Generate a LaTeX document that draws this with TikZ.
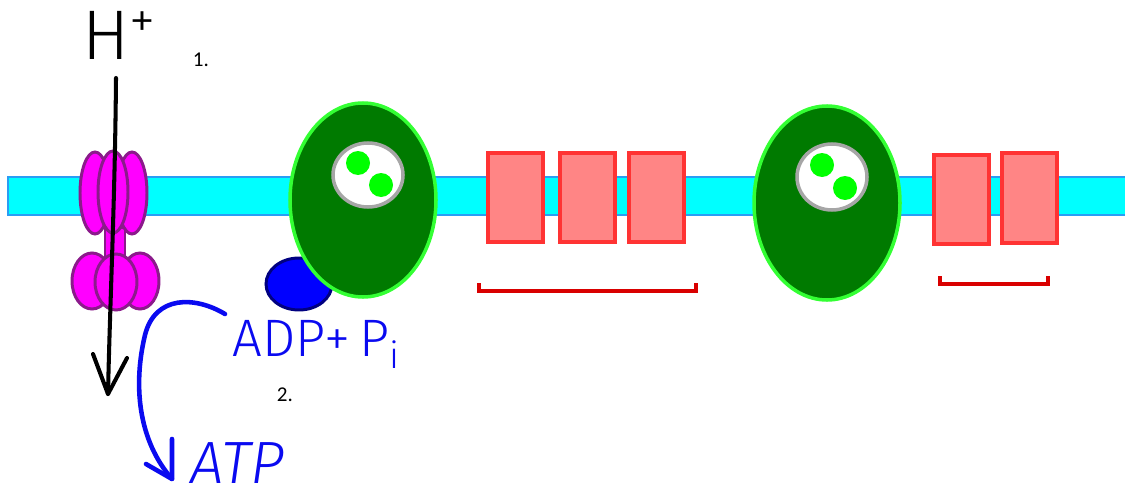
\documentclass[tikz,border=0pt]{standalone}
\usepackage{fontspec}
\setmainfont{Carlito}
\newfontfamily\handfont{Fira Sans Light}
\definecolor{membrane}{HTML}{00FFFF}
\definecolor{membraneedge}{HTML}{2A9DF4}
\definecolor{synthase}{HTML}{FF00FF}
\definecolor{synthaseedge}{HTML}{8B1A8B}
\definecolor{complexfill}{HTML}{007A00}
\definecolor{complexedge}{HTML}{33FF33}
\definecolor{pumpfill}{HTML}{FF8585}
\definecolor{pumpedge}{HTML}{FF3333}
\definecolor{inkblue}{HTML}{0A0AF0}
\tikzset{
  subunit/.style={fill=synthase, draw=synthaseedge, line width=1.7pt},
  complex/.style={fill=complexfill, draw=complexedge, line width=2pt},
  pocket/.style={fill=white, draw=gray!70, line width=2pt},
  cofactor/.style={fill=green!100},
  pump/.style={fill=pumpfill, draw=pumpedge, line width=2pt},
  span/.style={draw=red!85!black, line width=2pt},
  ink/.style={line width=2.6pt, line cap=round, line join=round},
}
\begin{document}
\begin{tikzpicture}[x=0.02cm, y=-0.02cm]
\useasboundingbox (0,0) rectangle (1125,500);

% membrane
\draw[fill=membrane, draw=membraneedge, line width=1.3pt] (8,177) rectangle (1135,215);

% ATP synthase: stalk, then head and base
\draw[subunit] (105,228) rectangle (125,262);
\draw[subunit] (95,193) ellipse (15 and 41);
\draw[subunit] (132,193) ellipse (15 and 41);
\draw[subunit] (113,192) ellipse (15 and 41);
\draw[subunit] (92,281) ellipse (20 and 28);
\draw[subunit] (140,281) ellipse (19 and 28);
\draw[subunit] (116,282) ellipse (21 and 28);

% first complex with its blue partner
\draw[fill=blue, draw=blue!50!black, line width=1.7pt] (299,284) ellipse (33 and 26);
\draw[complex] (363,200) ellipse (73 and 97);
\draw[pocket] (368,175) ellipse (35 and 32);
\fill[cofactor] (358,163) circle (12);
\fill[cofactor] (381,185) circle (12);

% three pumps
\foreach \xa in {488,560,629}
  \draw[pump] (\xa,153) rectangle +(55,89);
\draw[span] (479,283) -- (479,291) -- (696,291) -- (696,283);

% second complex
\draw[complex] (827,203) ellipse (73 and 97);
\draw[pocket] (832,177) ellipse (35 and 33);
\fill[cofactor] (822,165) circle (12);
\fill[cofactor] (845,188) circle (12);

% two pumps
\draw[pump] (934,155) rectangle (989,244);
\draw[pump] (1002,153) rectangle (1057,243);
\draw[span] (940,276) -- (940,284) -- (1048,284) -- (1048,276);

% labels
\node[font=\handfont\fontsize{40}{40}\selectfont, inner sep=0, anchor=base west] (proton) at (82,60)
  {H\raisebox{0.3em}{\fontsize{30}{30}\selectfont+}};
\node[font=\fontsize{12}{12}\selectfont] (one) at (201,60) {1.};
\node[font=\fontsize{12}{12}\selectfont] (two) at (285,395) {2.};
\node[font=\handfont\fontsize{30}{30}\selectfont, text=inkblue, inner sep=0, anchor=base west] (adp) at (232,356)
  {ADP+\,P\textsubscript{i}};
\node[font=\handfont\itshape\fontsize{34}{34}\selectfont, text=inkblue, inner sep=0, anchor=base west] (atp) at (190,483) {ATP};

% proton flow through the synthase
\coordinate (hin) at (116,78);
\coordinate (hout) at (108,394);
\draw[ink, line width=2.3pt] (hin) .. controls (115,200) and (110,300) .. (hout);
\draw[ink, line width=2.3pt] (93,354) -- (hout) -- (127,358);

% phosphorylation arrow
\coordinate (pstart) at (225,314);
\coordinate (ptip) at (172,479);
\draw[ink, inkblue] (pstart) .. controls (195,296) and (155,295) .. (145,335)
  .. controls (133,385) and (138,440) .. (ptip);
\draw[ink, inkblue] (146,464) -- (ptip) -- (172,439);
\end{tikzpicture}
\end{document}
